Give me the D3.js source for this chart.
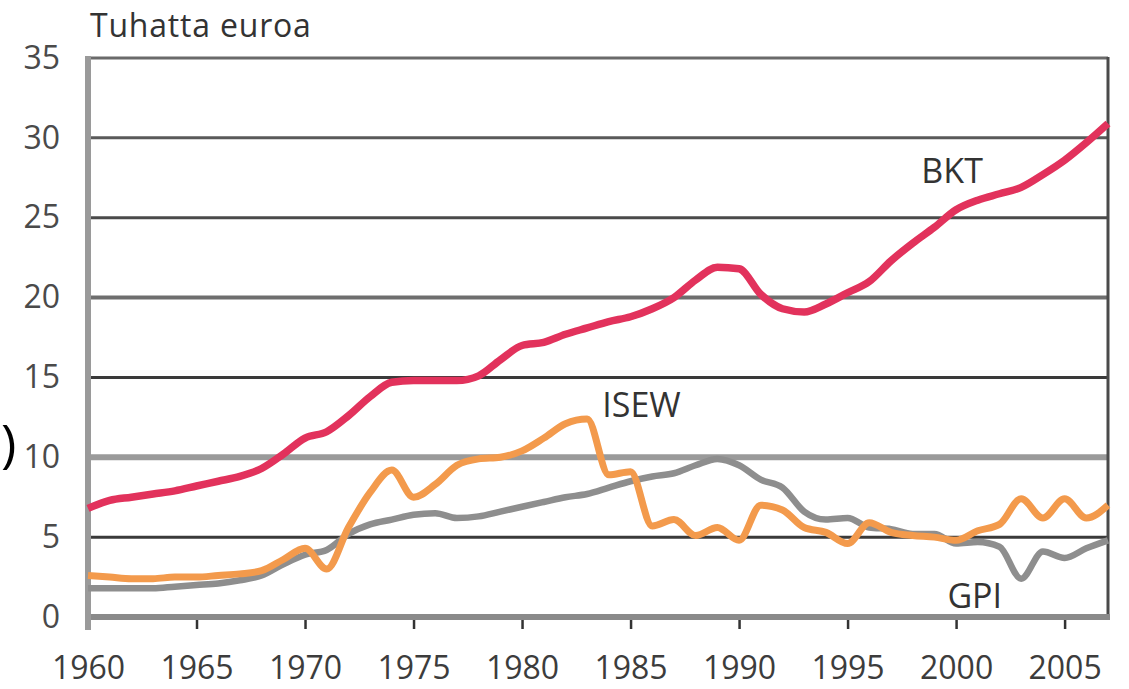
<!DOCTYPE html>
<html>
<head>
<meta charset="utf-8">
<script src="https://cdn.jsdelivr.net/npm/d3@7"></script>
<style>
  html, body { margin: 0; padding: 0; background: #fff; }
  svg { display: block; }
  text { font-family: "Open Sans", "DejaVu Sans", sans-serif; }
</style>
</head>
<body>
<svg id="chart" width="1129" height="689"></svg>
<script>
const years = d3.range(1960, 2008);
const bkt = [6.8, 7.3, 7.5, 7.7, 7.9, 8.2, 8.5, 8.8, 9.3, 10.2,
             11.2, 11.6, 12.6, 13.8, 14.7, 14.8, 14.8, 14.8, 15.1, 16.1,
             17.0, 17.2, 17.7, 18.1, 18.5, 18.8, 19.3, 20.0, 21.1, 21.9,
             21.8, 20.2, 19.3, 19.1, 19.6, 20.3, 21.0, 22.3, 23.4, 24.4,
             25.5, 26.1, 26.5, 26.9, 27.7, 28.6, 29.7, 30.9];
const isew = [2.6, 2.5, 2.4, 2.4, 2.5, 2.5, 2.6, 2.7, 2.9, 3.6,
              4.3, 3.0, 5.6, 7.8, 9.2, 7.5, 8.3, 9.5, 9.9, 10.0,
              10.4, 11.2, 12.1, 12.4, 8.9, 9.1, 5.7, 6.1, 5.1, 5.6,
              4.8, 7.0, 6.7, 5.6, 5.3, 4.6, 5.9, 5.3, 5.1, 5.0,
              4.8, 5.4, 5.8, 7.4, 6.2, 7.4, 6.2, 7.0];
const gpi = [1.8, 1.8, 1.8, 1.8, 1.9, 2.0, 2.1, 2.3, 2.6, 3.3,
             3.9, 4.2, 5.2, 5.8, 6.1, 6.4, 6.5, 6.2, 6.3, 6.6,
             6.9, 7.2, 7.5, 7.7, 8.1, 8.5, 8.8, 9.0, 9.5, 9.9,
             9.5, 8.6, 8.1, 6.6, 6.1, 6.2, 5.6, 5.5, 5.2, 5.2,
             4.6, 4.7, 4.4, 2.4, 4.1, 3.7, 4.3, 4.8];
const yTicks = [0, 5, 10, 15, 20, 25, 30, 35];
const xTicks = [1960, 1965, 1970, 1975, 1980, 1985, 1990, 1995, 2000, 2005];
const seriesNames = ["BKT", "ISEW", "GPI"];
const unitLabel = "Tuhatta euroa";

const svg = d3.select("#chart");
const mLeft = 88, mRight = 1108, mTop = 58, mBottom = 617;

const x = d3.scaleLinear().domain([1960, 2007]).range([mLeft, mRight]);
const y = d3.scaleLinear().domain([0, 35]).range([mBottom, mTop]);

const gridStyle = {
  5:  {c: "#3a3a3a", w: 3},
  10: {c: "#9a9a9a", w: 6},
  15: {c: "#3a3a3a", w: 3},
  20: {c: "#6e6e6e", w: 4},
  25: {c: "#4a4a4a", w: 3},
  30: {c: "#5a5a5a", w: 3},
  35: {c: "#6a6a6a", w: 3}
};

svg.append("g").selectAll("line")
  .data(yTicks.filter(d => d > 0))
  .enter().append("line")
  .attr("x1", mLeft).attr("x2", mRight)
  .attr("y1", d => y(d)).attr("y2", d => y(d))
  .attr("stroke", d => gridStyle[d].c)
  .attr("stroke-width", d => gridStyle[d].w);

svg.append("line")
  .attr("x1", mRight).attr("x2", mRight)
  .attr("y1", y(35) - 1).attr("y2", y(0) + 3)
  .attr("stroke", "#4a4a4a").attr("stroke-width", 3);

const xAxis = d3.axisBottom(x).tickValues(xTicks).tickSize(12).tickFormat(d3.format("d")).tickPadding(27);
const xg = svg.append("g").attr("transform", `translate(0,${mBottom})`).call(xAxis);
xg.select(".domain").remove();
xg.selectAll(".tick line").attr("stroke", "#333").attr("stroke-width", 2.5)
  .filter(d => d === 1960).remove();
xg.selectAll(".tick text").attr("font-size", 32).attr("fill", "#3c3c3c")
  .attr("font-family", "\"Open Sans\", sans-serif");

svg.append("line")
  .attr("x1", mLeft).attr("x2", mRight + 2)
  .attr("y1", y(0)).attr("y2", y(0))
  .attr("stroke", "#8a8a8a").attr("stroke-width", 6);

const yAxis = d3.axisLeft(y).tickValues(yTicks).tickSize(0).tickPadding(28);
const yg = svg.append("g").attr("transform", `translate(${mLeft},0)`).call(yAxis);
yg.select(".domain").remove();
yg.selectAll(".tick text").attr("font-size", 32).attr("fill", "#4a4a4a")
  .attr("font-family", "\"Open Sans\", sans-serif");

svg.append("line")
  .attr("x1", mLeft).attr("x2", mLeft)
  .attr("y1", y(35) - 2).attr("y2", y(0) + 13)
  .attr("stroke", "#9a9a9a").attr("stroke-width", 6);

const line = d3.line().x((d, i) => x(years[i])).y(d => y(d)).curve(d3.curveMonotoneX);
const series = [
  {name: "GPI", values: gpi, color: "#8e8e8e", w: 6.5},
  {name: "ISEW", values: isew, color: "#f39a4c", w: 7},
  {name: "BKT", values: bkt, color: "#e2325c", w: 7.5}
];
svg.append("g").selectAll("path")
  .data(series).enter().append("path")
  .attr("d", d => line(d.values))
  .attr("fill", "none")
  .attr("stroke", d => d.color)
  .attr("stroke-width", d => d.w)
  .attr("stroke-linejoin", "round")
  .attr("stroke-linecap", "butt");

const labelPos = {BKT: [1998.4, 27.2], ISEW: [1983.7, 12.5], GPI: [1999.6, 0.55]};
svg.append("g").selectAll("text")
  .data(seriesNames).enter().append("text")
  .attr("x", d => x(labelPos[d][0]))
  .attr("y", d => y(labelPos[d][1]))
  .attr("font-size", 34)
  .attr("fill", "#333")
  .text(d => d);

svg.append("text")
  .attr("x", mLeft + 2).attr("y", 37)
  .attr("font-size", 32)
  .attr("letter-spacing", 0.8)
  .attr("fill", "#333")
  .text(unitLabel);

svg.append("text")
  .attr("x", 1).attr("y", 462)
  .attr("font-size", 52)
  .attr("fill", "#000")
  .text(")");
</script>
</body>
</html>
